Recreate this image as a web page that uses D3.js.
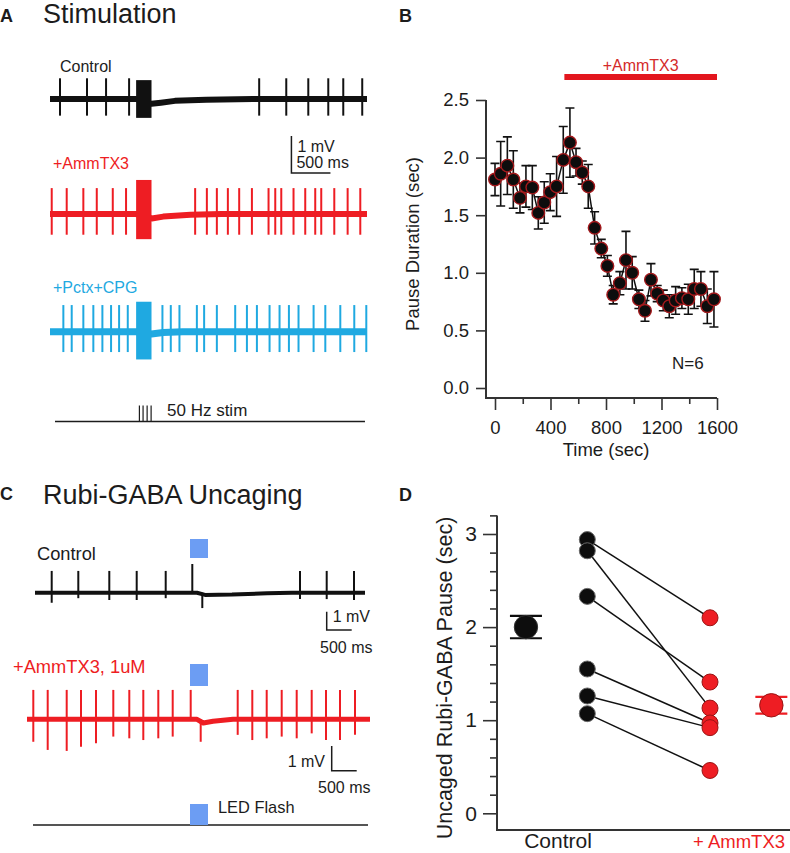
<!DOCTYPE html>
<html><head><meta charset="utf-8">
<script src="https://cdn.jsdelivr.net/npm/d3@7"></script>
<style>
body{margin:0;background:#fff;}
svg{display:block;font-family:"Liberation Sans",Arial,Helvetica,sans-serif;}
</style></head><body>
<svg id="fig" width="790" height="853"></svg>
<script>
// ================= DATA =================
// Panel A: spike times (ms) in each trace
const aTimeDomain = [0, 4060];
const aControlSpikes = [128, 474, 718, 1013, 2679, 3026, 3308, 3564, 3756, 3999];
const aAmmSpikes = [22, 214, 427, 599, 804, 974, 1859, 2009, 2137, 2278, 2423, 2586, 2799, 2885, 2962, 3119, 3269, 3397, 3474, 3641, 3812, 3974];
const aPctxSpikes = [171, 278, 427, 555, 671, 782, 885, 996, 1440, 1547, 1658, 1881, 1974, 2137, 2372, 2522, 2650, 2812, 2940, 3060, 3183, 3376, 3526, 3718, 3897, 4051];
const aStimBlock = [1103, 1300];
const aStimPulses = [1145, 1192, 1244, 1295];
// baselines [ms, mV]
const aControlBase = [[0, 0], [1103, 0], [1300, -0.13], [1420, -0.1], [1600, -0.05], [2000, -0.02], [2600, 0], [4060, 0]];
const aAmmBase = [[0, 0], [1103, 0], [1304, -0.12], [1450, -0.07], [1800, -0.02], [2200, 0], [4060, 0]];
const aPctxBase = [[0, 0], [1103, 0], [1300, -0.06], [1450, -0.02], [1700, 0], [4060, 0]];

// Panel B: pause duration time course
const bTime = [0, 41, 89, 132, 180, 223, 269, 312, 355, 398, 444, 492, 540, 584, 629, 672, 718, 766, 810, 852, 900, 944, 989, 1037, 1081, 1124, 1169, 1213, 1256, 1302, 1347, 1393, 1436, 1484, 1530, 1578];
const bPause = [1.81, 1.86, 1.93, 1.81, 1.65, 1.75, 1.74, 1.52, 1.61, 1.70, 1.75, 1.98, 2.13, 1.96, 1.87, 1.75, 1.39, 1.21, 1.06, 0.81, 0.91, 1.11, 1.00, 0.77, 0.67, 0.94, 0.82, 0.76, 0.71, 0.76, 0.78, 0.77, 0.86, 0.86, 0.71, 0.77];
const bSem = [0.14, 0.28, 0.25, 0.25, 0.13, 0.18, 0.19, 0.14, 0.18, 0.16, 0.26, 0.29, 0.30, 0.12, 0.10, 0.19, 0.14, 0.08, 0.09, 0.08, 0.10, 0.25, 0.14, 0.08, 0.09, 0.14, 0.07, 0.09, 0.10, 0.12, 0.09, 0.13, 0.17, 0.15, 0.15, 0.24];
const bDrugWindow = [500, 1600];
const bYTicks = [0, 0.5, 1.0, 1.5, 2.0, 2.5];
const bXTicks = [0, 400, 800, 1200, 1600];
const bXMinorTicks = [200, 600, 1000, 1400];

// Panel C: spike times (ms)
const cTimeDomain = [0, 6860];
const cControlSpikes = [494, 1026, 1646, 2194, 2774, 3306, 5460, 5994, 6540];
const cControlUp = [1.19, 1.19, 1.19, 1.19, 1.19, 1.57, 1.19, 1.19, 1.19];
const cControlDown = [0.55, 0.3, 0.4, 0.4, 0.3, 0, 0.35, 0.35, 0.4];
const cControlDeflect = [3506];
const cControlDeflectDown = [0.84];
const cControlBase = [[160, 0], [3400, 0], [3560, -0.12], [4100, -0.1], [4800, -0.03], [5300, 0], [6760, 0]];
const cAmmSpikes = [126, 414, 794, 1080, 1380, 1726, 2046, 2326, 2626, 2914, 3274, 4214, 4506, 4794, 5094, 5394, 5694, 5980, 6260, 6560];
const cAmmUp = [1.19, 1.19, 1.19, 1.19, 1.19, 1.19, 1.19, 1.19, 1.19, 1.19, 1.19, 1.19, 1.19, 1.19, 1.19, 1.19, 1.19, 1.19, 1.19, 1.19];
const cAmmDown = [0.91, 1.24, 1.28, 1.11, 0.97, 0.70, 0.77, 0.84, 0.77, 0.70, 0, 0.63, 0.84, 0.77, 0.70, 0.77, 0.57, 0.84, 0.84, 0.63];
const cAmmDeflect = [3474];
const cAmmDeflectDown = [0.91];
const cAmmBase = [[0, 0], [3400, 0], [3526, -0.15], [3720, -0.08], [4120, 0], [6860, 0]];
const cLed = [3260, 3620];

// Panel D: paired uncaging pauses (sec)
const dCategories = ["Control", "+ AmmTX3"];
const dControl = [2.94, 2.82, 2.33, 1.55, 1.26, 1.07];
const dAmmTX3 = [2.10, 1.13, 1.41, 0.97, 0.92, 0.46];
const dMean = [2.00, 1.16];
const dSem = [0.12, 0.09];
const dMajorTicks = [0, 1, 2, 3];
const dMinorTicks = [0.2, 0.4, 0.6, 0.8, 1.2, 1.4, 1.6, 1.8, 2.2, 2.4, 2.6, 2.8, 3.2];

// ================= DRAWING =================
const svg = d3.select("#fig");
const INK = "#1c1c1c";
const RED = "#ee1d23";
const BLUE = "#1fa9e1";
const LED = "#6c9df3";

function label(x, y, s, size, fill = INK, anchor = "start", weight = "normal", rot = null) {
  const t = svg.append("text").attr("x", x).attr("y", y).text(s)
    .attr("font-size", size).attr("fill", fill).attr("text-anchor", anchor).attr("font-weight", weight);
  if (rot !== null) t.attr("transform", `rotate(${rot},${x},${y})`);
  return t;
}
const pick = (v, i) => Array.isArray(v) ? v[i] : v;

function trace(cfg) {
  const y = d3.scaleLinear().domain([0, 1]).range([cfg.y0, cfg.y0 - cfg.pxPerMv]);
  const g = svg.append("g");
  const line = d3.line().x(d => cfg.x(d[0])).y(d => y(d[1]));
  g.append("path").datum(cfg.baseline).attr("d", line).attr("fill", "none")
    .attr("stroke", cfg.color).attr("stroke-width", cfg.baseWidth).attr("stroke-linejoin", "round");
  g.selectAll("line.sp").data(cfg.spikes).join("line").attr("class", "sp")
    .attr("x1", d => cfg.x(d)).attr("x2", d => cfg.x(d))
    .attr("y1", (d, i) => y(pick(cfg.up, i))).attr("y2", (d, i) => y(-pick(cfg.down, i)))
    .attr("stroke", cfg.color).attr("stroke-width", cfg.spikeWidth || 2);
  if (cfg.deflect) {
    g.selectAll("line.df").data(cfg.deflect).join("line").attr("class", "df")
      .attr("x1", d => cfg.x(d)).attr("x2", d => cfg.x(d))
      .attr("y1", y(0)).attr("y2", (d, i) => y(-cfg.deflectDown[i]))
      .attr("stroke", cfg.color).attr("stroke-width", cfg.spikeWidth || 2);
  }
  if (cfg.block) {
    g.append("rect").attr("x", cfg.x(cfg.block[0])).attr("width", cfg.x(cfg.block[1]) - cfg.x(cfg.block[0]))
      .attr("y", y(cfg.blockUp)).attr("height", y(-cfg.blockDown) - y(cfg.blockUp)).attr("fill", cfg.color);
  }
  return y;
}

// ---------- Panel A ----------
label(0, 22, "A", 18, INK, "start", "bold");
label(43, 23, "Stimulation", 27);
const xA = d3.scaleLinear().domain(aTimeDomain).range([50, 367]);
label(60, 72, "Control", 16);
trace({x: xA, y0: 99, pxPerMv: 37, color: "#111", baseline: aControlBase, baseWidth: 6,
  spikes: aControlSpikes, up: 0.56, down: 0.45, block: aStimBlock, blockUp: 0.51, blockDown: 0.51});
label(53, 169, "+AmmTX3", 16, RED);
trace({x: xA, y0: 214, pxPerMv: 37, color: RED, baseline: aAmmBase, baseWidth: 6,
  spikes: aAmmSpikes, up: 0.7, down: 0.56, block: aStimBlock, blockUp: 0.92, blockDown: 0.68});
label(53, 293, "+Pctx+CPG", 16, BLUE);
trace({x: xA, y0: 331.7, pxPerMv: 37, color: BLUE, baseline: aPctxBase, baseWidth: 7,
  spikes: aPctxSpikes, up: 0.72, down: 0.55, block: aStimBlock, blockUp: 0.81, blockDown: 0.75});
// scale bar A
{
  const yBar = d3.scaleLinear().domain([0, 1]).range([173, 136]);
  const x0 = xA(3092), x1 = xA(3092 + 500);
  svg.append("path").attr("d", `M${x0},${yBar(1)}V${yBar(0)}H${x1}`).attr("fill", "none").attr("stroke", INK).attr("stroke-width", 1.5);
  label(x0 + 6, 152, "1 mV", 16);
  label(x0 + 5, 168, "500 ms", 16);
}
// stimulation line
{
  const yS = 421.5;
  svg.append("line").attr("x1", xA(64)).attr("x2", xA(4034)).attr("y1", yS).attr("y2", yS).attr("stroke", INK).attr("stroke-width", 1.5);
  svg.selectAll("line.stim").data(aStimPulses).join("line").attr("class", "stim")
    .attr("x1", d => xA(d)).attr("x2", d => xA(d)).attr("y1", yS - 16).attr("y2", yS).attr("stroke", INK).attr("stroke-width", 1.2);
  label(167, 416, "50 Hz stim", 17);
}

// ---------- Panel B ----------
label(399, 22, "B", 18, INK, "start", "bold");
const xB = d3.scaleLinear().domain([0, 1600]).range([495, 717]);
const yB = d3.scaleLinear().domain([0, 2.5]).range([388, 100]);
{
  const gy = svg.append("g").attr("transform", "translate(486,0)")
    .call(d3.axisLeft(yB).tickValues(bYTicks).tickSize(10).tickPadding(7).tickFormat(d3.format(".1f")));
  gy.select(".domain").remove();
  gy.selectAll("line").attr("stroke", "#333").attr("stroke-width", 1.6);
  gy.selectAll("text").attr("font-size", 18.5).attr("fill", INK).attr("font-family", null);
  const gx = svg.append("g").attr("transform", "translate(0,398)")
    .call(d3.axisBottom(xB).tickValues(bXTicks).tickSize(12).tickPadding(11).tickFormat(d3.format("d")));
  gx.select(".domain").remove();
  gx.selectAll("line").attr("stroke", "#333").attr("stroke-width", 1.6);
  gx.selectAll("text").attr("font-size", 18.5).attr("fill", INK).attr("font-family", null);
  const gxm = svg.append("g").attr("transform", "translate(0,398)")
    .call(d3.axisBottom(xB).tickValues(bXMinorTicks).tickSize(6).tickFormat(""));
  gxm.select(".domain").remove();
  gxm.selectAll("line").attr("stroke", "#333").attr("stroke-width", 1.6);
  svg.append("path").attr("d", `M486,${yB(2.5)}V398H${xB(1600)}`).attr("fill", "none").attr("stroke", "#333").attr("stroke-width", 2);
  label(606, 456, "Time (sec)", 18.5, INK, "middle");
  label(419, 244, "Pause Duration (sec)", 18.5, INK, "middle", "normal", -90);
  label(672, 369, "N=6", 17);
  // drug bar
  svg.append("line").attr("x1", xB(bDrugWindow[0])).attr("x2", xB(bDrugWindow[1])).attr("y1", 77).attr("y2", 77)
    .attr("stroke", "#e3161e").attr("stroke-width", 6);
  label((xB(bDrugWindow[0]) + xB(bDrugWindow[1])) / 2, 71, "+AmmTX3", 16, "#d42a2a", "middle");
  const pts = bTime.map((t, i) => ({t, v: bPause[i], e: bSem[i]}));
  const g = svg.append("g");
  g.selectAll("path.eb").data(pts).join("path").attr("class", "eb")
    .attr("d", d => { const x = xB(d.t), y1 = yB(d.v + d.e), y2 = yB(d.v - d.e);
      return `M${x - 4.5},${y1}H${x + 4.5}M${x},${y1}V${y2}M${x - 4.5},${y2}H${x + 4.5}`; })
    .attr("stroke", "#111").attr("stroke-width", 1.6).attr("fill", "none");
  g.append("path").datum(pts).attr("d", d3.line().x(d => xB(d.t)).y(d => yB(d.v)))
    .attr("fill", "none").attr("stroke", "#111").attr("stroke-width", 1.5);
  g.selectAll("circle").data(pts).join("circle").attr("cx", d => xB(d.t)).attr("cy", d => yB(d.v)).attr("r", 6.3)
    .attr("fill", "#0d0d0d").attr("stroke", "#a3191c").attr("stroke-width", 1.4);
}

// ---------- Panel C ----------
label(0, 500, "C", 18, INK, "start", "bold");
label(43, 504, "Rubi-GABA Uncaging", 27);
const xC = d3.scaleLinear().domain(cTimeDomain).range([27, 370]);
label(37, 560, "Control", 18.3);
svg.append("rect").attr("x", xC(cLed[0])).attr("width", xC(cLed[1]) - xC(cLed[0])).attr("y", 539).attr("height", 19).attr("fill", LED);
trace({x: xC, y0: 592.7, pxPerMv: 18.3, color: "#111", baseline: cControlBase, baseWidth: 4,
  spikes: cControlSpikes, up: cControlUp, down: cControlDown, deflect: cControlDeflect, deflectDown: cControlDeflectDown});
{
  const yBar = d3.scaleLinear().domain([0, 1]).range([630, 611.7]);
  const x0 = xC(5994), x1 = xC(5994 + 500);
  svg.append("path").attr("d", `M${x0},${yBar(1)}V${yBar(0)}H${x1}`).attr("fill", "none").attr("stroke", INK).attr("stroke-width", 1.5);
  label(x0 + 6, 622, "1 mV", 16);
  label(320, 653, "500 ms", 16);
}
label(13, 673, "+AmmTX3, 1uM", 18.3, RED);
svg.append("rect").attr("x", xC(cLed[0])).attr("width", xC(cLed[1]) - xC(cLed[0])).attr("y", 664).attr("height", 22).attr("fill", LED);
trace({x: xC, y0: 719.3, pxPerMv: 24.7, color: RED, baseline: cAmmBase, baseWidth: 5,
  spikes: cAmmSpikes, up: cAmmUp, down: cAmmDown, deflect: cAmmDeflect, deflectDown: cAmmDeflectDown});
{
  const yBar = d3.scaleLinear().domain([0, 1]).range([770.7, 746]);
  const x0 = xC(6094), x1 = xC(6094 + 500);
  svg.append("path").attr("d", `M${x0},${yBar(1)}V${yBar(0)}H${x1}`).attr("fill", "none").attr("stroke", INK).attr("stroke-width", 1.5);
  label(325, 767, "1 mV", 16, INK, "end");
  label(318, 793, "500 ms", 16);
}
// LED line
svg.append("line").attr("x1", xC(120)).attr("x2", xC(6820)).attr("y1", 825).attr("y2", 825).attr("stroke", INK).attr("stroke-width", 1.5);
svg.append("rect").attr("x", xC(cLed[0])).attr("width", xC(cLed[1]) - xC(cLed[0])).attr("y", 804).attr("height", 21).attr("fill", LED);
label(218, 813, "LED Flash", 16.4);

// ---------- Panel D ----------
label(399, 501, "D", 18, INK, "start", "bold");
const xD = d3.scaleLinear().domain([0, 1]).range([587.3, 710]);
const yD = d3.scaleLinear().domain([0, 3]).range([813.3, 534]);
{
  const gy = svg.append("g").attr("transform", "translate(497,0)")
    .call(d3.axisLeft(yD).tickValues(dMajorTicks).tickSize(14).tickPadding(6).tickFormat(d3.format("d")));
  gy.select(".domain").remove();
  gy.selectAll("line").attr("stroke", "#333").attr("stroke-width", 1.6);
  gy.selectAll("text").attr("font-size", 21).attr("fill", INK).attr("font-family", null);
  const gm = svg.append("g").attr("transform", "translate(497,0)")
    .call(d3.axisLeft(yD).tickValues(dMinorTicks).tickSize(7).tickFormat(""));
  gm.select(".domain").remove();
  gm.selectAll("line").attr("stroke", "#333").attr("stroke-width", 1.6);
  svg.append("path").attr("d", `M497,${yD(3.2)}V830H790`).attr("fill", "none").attr("stroke", "#333").attr("stroke-width", 2);
  label(452, 678, "Uncaged Rubi-GABA Pause (sec)", 21.5, INK, "middle", "normal", -90);
  label(558, 848, dCategories[0], 21, INK, "middle");
  label(693, 848, dCategories[1], 18.5, RED, "start");

  const g = svg.append("g");
  g.selectAll("line.pair").data(dControl).join("line").attr("class", "pair")
    .attr("x1", xD(0)).attr("y1", d => yD(d)).attr("x2", xD(1)).attr("y2", (d, i) => yD(dAmmTX3[i]))
    .attr("stroke", "#111").attr("stroke-width", 1.5);
  g.selectAll("circle.c").data(dControl).join("circle").attr("class", "c")
    .attr("cx", xD(0)).attr("cy", d => yD(d)).attr("r", 8).attr("fill", "#0d0d0d").attr("stroke", "#6a6a6a").attr("stroke-width", 1);
  g.selectAll("circle.a").data(dAmmTX3).join("circle").attr("class", "a")
    .attr("cx", xD(1)).attr("cy", d => yD(d)).attr("r", 8).attr("fill", RED).attr("stroke", "#9a1414").attr("stroke-width", 1);
  const meanX = [-0.5, 1.5];
  const meanCol = ["#0d0d0d", RED];
  dMean.forEach((m, i) => {
    const x = xD(meanX[i]);
    g.append("path").attr("d", `M${x - 16},${yD(m + dSem[i])}H${x + 16}M${x},${yD(m + dSem[i])}V${yD(m - dSem[i])}M${x - 16},${yD(m - dSem[i])}H${x + 16}`)
      .attr("stroke", meanCol[i]).attr("stroke-width", 2.2).attr("fill", "none");
    g.append("circle").attr("cx", x).attr("cy", yD(m)).attr("r", 11.7).attr("fill", meanCol[i])
      .attr("stroke", i === 0 ? "#333" : "#9a1414").attr("stroke-width", 1);
  });
}
</script></body></html>
